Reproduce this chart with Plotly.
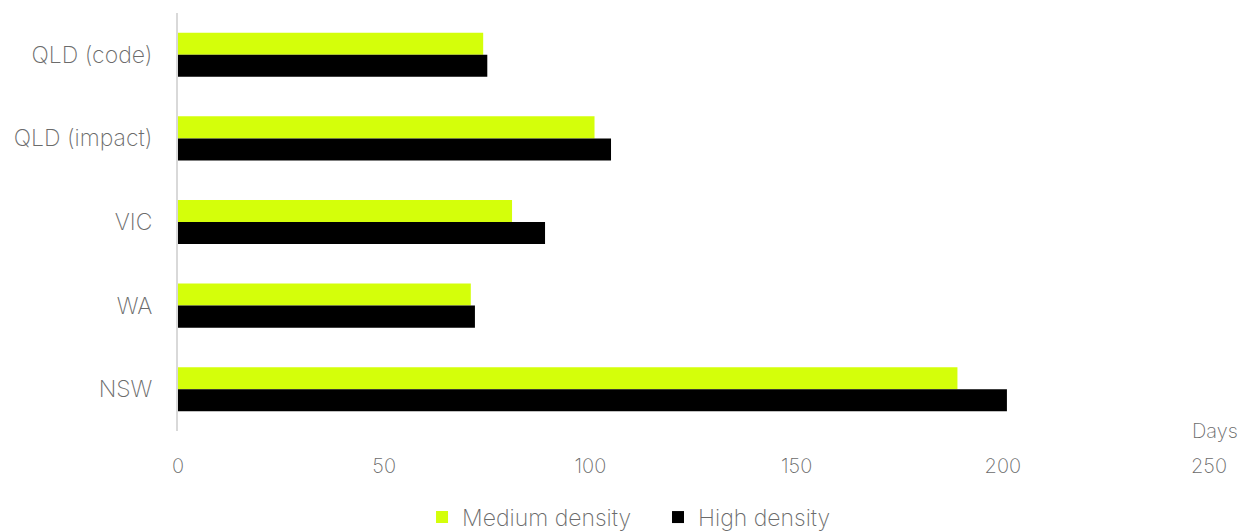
import plotly.graph_objects as go

# Assessment time by state, in days
states = ["QLD (code)", "QLD (impact)", "VIC", "WA", "NSW"]
medium_density = [74, 101, 81, 71, 189]
high_density = [75, 105, 89, 72, 201]
x_ticks = [0, 50, 100, 150, 200, 250]

FONT = "Inter"
TEXT_GREY = "#6b6b6b"

fig = go.Figure()
fig.add_trace(go.Bar(
    y=states, x=medium_density, orientation="h", name="Medium density",
    marker=dict(color="#d4ff0a", line=dict(width=0)),
))
fig.add_trace(go.Bar(
    y=states, x=high_density, orientation="h", name="High density",
    marker=dict(color="#000000", line=dict(width=0)),
))

fig.update_layout(
    width=1251, height=532,
    margin=dict(l=178, r=42, t=13, b=101, autoexpand=False),
    paper_bgcolor="white", plot_bgcolor="white",
    barmode="group", bargap=0.473, bargroupgap=0,
    font=dict(family=FONT, color=TEXT_GREY, size=20, weight=200),
    showlegend=True,
    legend=dict(
        orientation="h", xref="container", yref="container",
        x=0.526, xanchor="center", y=0.028, yanchor="middle",
        font=dict(family=FONT, size=23, color=TEXT_GREY, weight=200),
        itemwidth=30, traceorder="normal",
        entrywidth=191, entrywidthmode="pixels",
    ),
    xaxis=dict(
        range=[0, 250], tickvals=x_ticks, showgrid=False, zeroline=False,
        showline=False, ticks="", ticklabelstandoff=21,
        tickfont=dict(family=FONT, size=20, color=TEXT_GREY, weight=200),
    ),
    yaxis=dict(
        categoryorder="array", categoryarray=states, autorange="reversed",
        showgrid=False, zeroline=False, showline=True, linecolor="#d9d9d9",
        linewidth=2, ticks="", ticklabelstandoff=19,
        tickfont=dict(family=FONT, size=23, color=TEXT_GREY, weight=200),
    ),
)

fig.add_annotation(
    text="Days", xref="paper", yref="paper", x=1, y=0,
    xanchor="center", yanchor="middle", xshift=6, showarrow=False,
    font=dict(family=FONT, size=20, color=TEXT_GREY, weight=200),
)

fig.write_html("out.html")
